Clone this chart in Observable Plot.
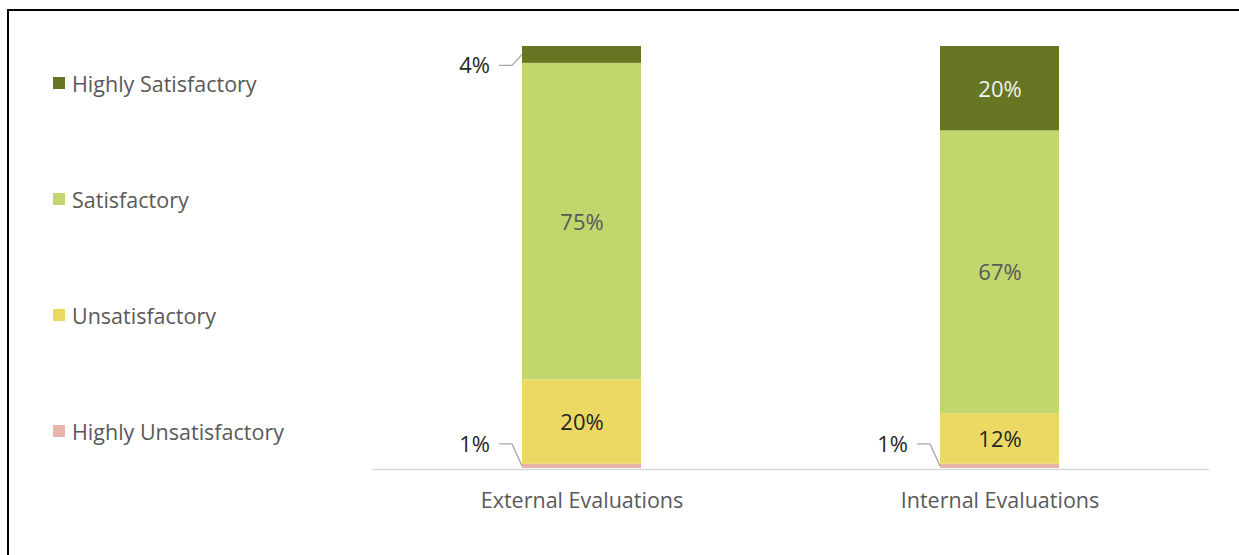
<!DOCTYPE html>
<html>
<head>
<meta charset="utf-8">
<script src="https://cdn.jsdelivr.net/npm/d3@7"></script>
<script src="https://cdn.jsdelivr.net/npm/@observablehq/plot@0.6"></script>
<style>
  html, body { margin: 0; padding: 0; background: #fff; }
  #wrap { position: relative; width: 1239px; height: 555px; overflow: hidden; font-family: "Open Sans", sans-serif; }
  #frame { position: absolute; left: 7px; top: 9px; width: 1300px; height: 700px; border-top: 2px solid #000; border-left: 2px solid #000; box-sizing: border-box; }
  #chart { position: absolute; left: 0; top: 0; }
  #legend { position: absolute; left: 53px; top: 70px; display: flex; flex-direction: column; gap: 90px; }
  .item { display: flex; align-items: center; height: 26px; font-size: 21.5px; color: #595959; white-space: nowrap; }
  .sw { width: 12px; height: 12px; margin-right: 7px; flex: none; }
</style>
</head>
<body>
<div id="wrap">
  <div id="frame"></div>
  <div id="chart"></div>
  <div id="legend"></div>
</div>
<script>
const categories = ["External Evaluations", "Internal Evaluations"];
const ratings = ["Highly Unsatisfactory", "Unsatisfactory", "Satisfactory", "Highly Satisfactory"];
const externalValues = [1, 20, 75, 4];
const internalValues = [1, 12, 67, 20];
const ratingColors = ["#e6b4a8", "#ecd964", "#c2d66e", "#677622"];
const insideLabelColors = {"Highly Satisfactory": "#f2f2f2", "Satisfactory": "#595959", "Unsatisfactory": "#262626"};

const seriesByCategory = [externalValues, internalValues];
const data = [];
categories.forEach((c, i) => {
  ratings.forEach((r, j) => data.push({category: c, rating: r, value: seriesByCategory[i][j]}));
});

const fmt = v => v + "%";
const insideText = rating => d => (d.rating === rating && d.value >= 10) ? fmt(d.value) : null;

const marks = [
  Plot.ruleY([0], {stroke: "#d9d9d9", strokeWidth: 1.5, dy: 1}),
  Plot.barY(data, {x: "category", y: "value", fill: "rating"})
];
for (const r of Object.keys(insideLabelColors)) {
  marks.push(Plot.text(data, Plot.stackY({x: "category", y: "value", text: insideText(r), fill: insideLabelColors[r], fontSize: 22, dy: 1})));
}

const chart = Plot.plot({
  width: 1239,
  height: 555,
  marginTop: 46,
  marginBottom: 87,
  marginLeft: 372,
  marginRight: 30,
  style: {fontFamily: "Open Sans, sans-serif", fontSize: "21.5px", color: "#595959", background: "transparent", overflow: "visible"},
  x: {domain: categories, paddingInner: 0.715, paddingOuter: 0.3575, label: null, tickSize: 0, tickPadding: 24},
  y: {domain: [0, 100], axis: null},
  color: {domain: ratings, range: ratingColors},
  marks: marks
});
document.getElementById("chart").appendChild(chart);

// leader lines + callout labels for the small segments, positioned through Plot's scales
const sx = chart.scale("x"), sy = chart.scale("y");
const g = d3.select(chart).append("g");
categories.forEach((c, i) => {
  const vals = seriesByCategory[i];
  let cum = 0;
  const left = sx.apply(c);
  vals.forEach((v, j) => {
    const mid = cum + v / 2;
    cum += v;
    if (v >= 10) return;
    const ym = sy.apply(mid);
    const yl = j === 0 ? ym - 22 : ym + 11;
    g.append("path")
      .attr("d", `M${left},${ym}L${left - 10},${yl}L${left - 23},${yl}`)
      .attr("fill", "none").attr("stroke", "#a6a6a6").attr("stroke-width", 1.3);
    g.append("text")
      .attr("x", left - 32).attr("y", yl).attr("dy", "0.35em")
      .attr("text-anchor", "end").attr("fill", "#262626")
      .attr("font-size", 22)
      .text(fmt(v));
  });
});

// legend (top to bottom: reverse of stack order)
const legend = d3.select("#legend");
[...ratings].reverse().forEach(r => {
  const it = legend.append("div").attr("class", "item");
  it.append("div").attr("class", "sw").style("background", ratingColors[ratings.indexOf(r)]);
  it.append("span").text(r);
});
</script>
</body>
</html>
